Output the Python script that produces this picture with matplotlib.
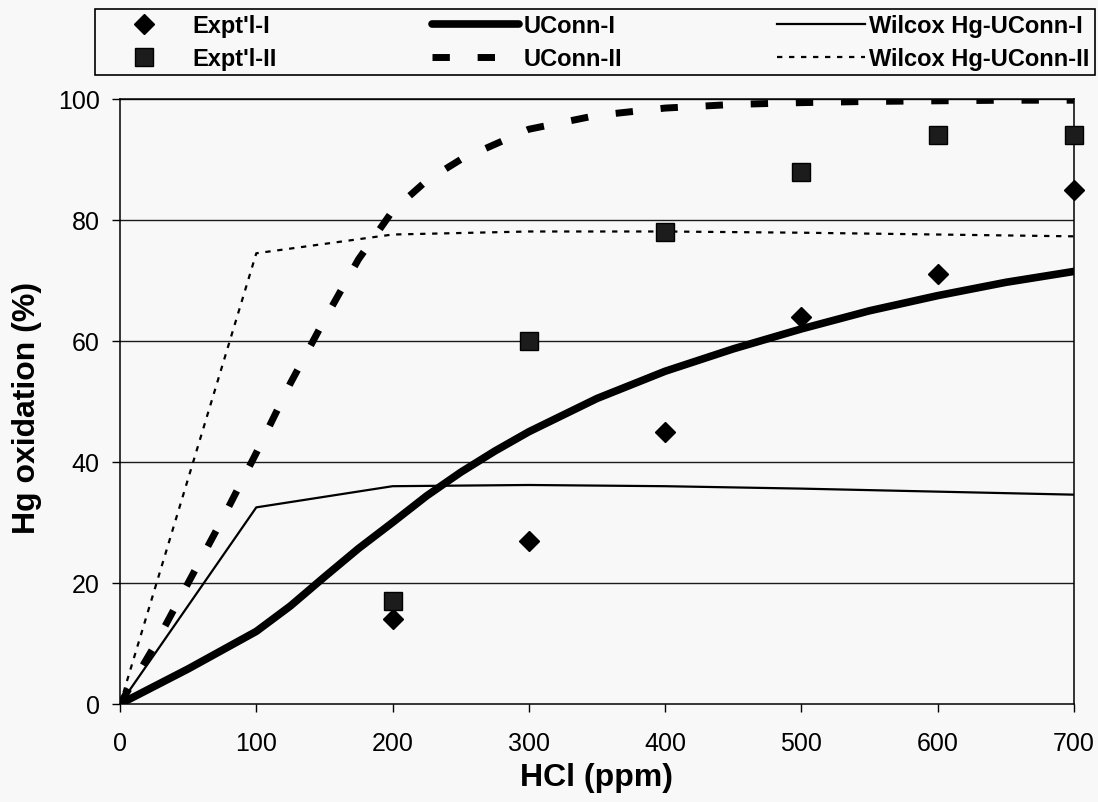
import matplotlib
matplotlib.use("Agg")
import matplotlib.pyplot as plt

hcl_expt = [200, 300, 400, 500, 600, 700]
expt_1 = [14, 27, 45, 64, 71, 85]
expt_2 = [17, 60, 78, 88, 94, 94]

hcl_uconn1 = [0, 50, 100, 125, 150, 175, 200, 225, 250, 275, 300, 350, 400, 450,
              500, 550, 600, 650, 700]
uconn_1 = [0, 5.8, 12, 16.2, 21, 25.7, 30, 34.4, 38.3, 41.8, 45, 50.5, 55, 58.7,
           62, 65, 67.5, 69.7, 71.5]

hcl_uconn2 = [0, 25, 50, 75, 100, 125, 150, 175, 200, 225, 250, 300, 350, 400,
              450, 500, 550, 600, 650, 700]
uconn_2 = [0, 9.5, 20, 30.5, 41.5, 53, 63.5, 73.5, 81.5, 86.5, 90, 95, 97.3, 98.5,
           99.1, 99.4, 99.6, 99.7, 99.8, 99.8]

hcl_wilcox = [0, 100, 200, 300, 400, 500, 600, 700]
wilcox_1 = [0, 32.5, 36, 36.2, 36, 35.6, 35.1, 34.6]
wilcox_2 = [0, 74.5, 77.6, 78.1, 78.1, 77.9, 77.6, 77.3]

labels = ["Expt'l-I", "Expt'l-II", "UConn-I", "UConn-II",
          "Wilcox Hg-UConn-I", "Wilcox Hg-UConn-II"]
x_ticks = [0, 100, 200, 300, 400, 500, 600, 700]
y_ticks = [0, 20, 40, 60, 80, 100]

plt.rcParams['font.family'] = ['Liberation Sans', 'DejaVu Sans']
bg = '#f8f8f8'
W, H = 1098, 803

fig = plt.figure(figsize=(W / 100, H / 100), dpi=100, facecolor=bg)
ax = fig.add_axes([120 / W, 1 - 705 / H, 954 / W, 605 / H], facecolor=bg)

for y in y_ticks[1:]:
    ax.axhline(y, color='#1a1a1a', lw=1.0, zorder=1)

h_w2, = ax.plot(hcl_wilcox, wilcox_2, color='black', lw=1.6,
                linestyle=(0, (2.4, 3.0)), zorder=3)
h_w1, = ax.plot(hcl_wilcox, wilcox_1, color='black', lw=1.6, zorder=3)
h_u2, = ax.plot(hcl_uconn2, uconn_2, color='black', lw=5,
                linestyle=(0, (2.5, 4)), zorder=4)
h_u1, = ax.plot(hcl_uconn1, uconn_1, color='black', lw=5.5,
                solid_capstyle='round', solid_joinstyle='round', zorder=4)
h_e1, = ax.plot(hcl_expt, expt_1, linestyle='none', marker='D', ms=10,
                color='black', mec='black', zorder=5, clip_on=False)
h_e2, = ax.plot(hcl_expt, expt_2, linestyle='none', marker='s', ms=12.5,
                color='#1c1c1c', mec='black', mew=1, zorder=5, clip_on=False)

ax.set_xlim(0, 700)
ax.set_ylim(0, 100)
ax.set_xticks(x_ticks)
ax.set_yticks(y_ticks)
ax.tick_params(axis='x', direction='out', length=5.5, width=1, labelsize=18, pad=14)
ax.tick_params(axis='y', direction='out', length=5.5, width=1, labelsize=18, pad=9)
for sp in ax.spines.values():
    sp.set_color('black')
    sp.set_linewidth(1.1)

fig.text(597 / W, 1 - 786 / H, 'HCl (ppm)', ha='center', va='baseline',
         fontsize=23, fontweight='bold')
fig.text(27 / W, 1 - 408 / H, 'Hg oxidation (%)', ha='center', va='center',
         rotation=90, fontsize=23, fontweight='bold')

leg = fig.legend([h_e1, h_e2, h_u1, h_u2, h_w1, h_w2], labels, ncol=3,
                 loc='upper left', mode='expand',
                 bbox_to_anchor=(95 / W, 1 - 77 / H, 1000 / W, 67 / H),
                 prop={'size': 17, 'weight': 'bold'}, handlelength=3.7,
                 handletextpad=0.2, borderpad=0.22, labelspacing=0.42,
                 borderaxespad=0, fancybox=False, framealpha=1,
                 facecolor=bg, edgecolor='black')
leg.get_frame().set_linewidth(1.2)

fig.savefig('out.png', dpi=100, facecolor=bg)
